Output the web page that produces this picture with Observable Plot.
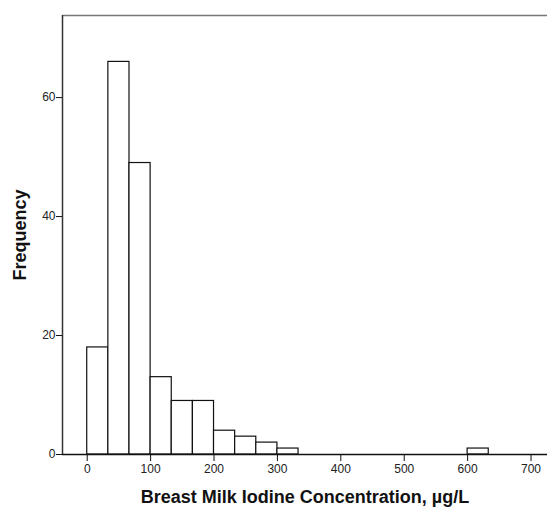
<!DOCTYPE html>
<html>
<head>
<meta charset="utf-8">
<script src="https://cdn.jsdelivr.net/npm/d3@7"></script>
<script src="https://cdn.jsdelivr.net/npm/@observablehq/plot@0.6"></script>
<style>
  html, body { margin: 0; padding: 0; background: #fff; }
  svg { font-family: "Liberation Sans", Arial, sans-serif; }
</style>
</head>
<body>
<div id="chart"></div>
<script>
const binStarts = [0, 33.333, 66.667, 100, 133.333, 166.667, 200, 233.333, 266.667, 300, 600];
const binEnds   = [33.333, 66.667, 100, 133.333, 166.667, 200, 233.333, 266.667, 300, 333.333, 633.333];
const counts    = [18, 66, 49, 13, 9, 9, 4, 3, 2, 1, 1];
const xTicks = [0, 100, 200, 300, 400, 500, 600, 700];
const yTicks = [0, 20, 40, 60];
const xLabel = "Breast Milk Iodine Concentration, µg/L";
const yLabel = "Frequency";

const bars = binStarts.map((s, i) => ({x1: s, x2: binEnds[i], y: counts[i]}));
const xMin = -39, xMax = 726, yMax = 73.8;

const chart = Plot.plot({
  width: 547,
  height: 508,
  marginLeft: 62,
  marginTop: 15,
  marginRight: 0,
  marginBottom: 54,
  x: {domain: [xMin, xMax]},
  y: {domain: [0, yMax]},
  style: {fontFamily: "'Liberation Sans', Arial, sans-serif", fontSize: "12px", color: "#222"},
  marks: [
    Plot.rectY(bars, {x1: "x1", x2: "x2", y: "y", fill: "white", stroke: "#111", strokeWidth: 1.2}),
    Plot.ruleY([yMax], {stroke: "#777", strokeWidth: 1.5}),
    Plot.ruleX([xMin], {stroke: "#333", strokeWidth: 1.5}),
    Plot.ruleY([0], {stroke: "#111", strokeWidth: 1.3}),
    Plot.axisX({ticks: xTicks, tickSize: 7, tickPadding: 3, label: null, stroke: "#111", fill: "#222", fontSize: 12}),
    Plot.axisY({ticks: yTicks, tickSize: 6, tickPadding: 1, label: null, stroke: "#111", fill: "#222", fontSize: 12}),
    Plot.text([xLabel], {frameAnchor: "bottom", lineAnchor: "middle", dy: 43, fontSize: 18, fontWeight: "bold", fill: "#111"}),
    Plot.text([yLabel], {frameAnchor: "left", textAnchor: "middle", lineAnchor: "middle", dx: -42, rotate: -90, fontSize: 18, fontWeight: "bold", fill: "#111"})
  ]
});
document.getElementById("chart").appendChild(chart);
</script>
</body>
</html>
